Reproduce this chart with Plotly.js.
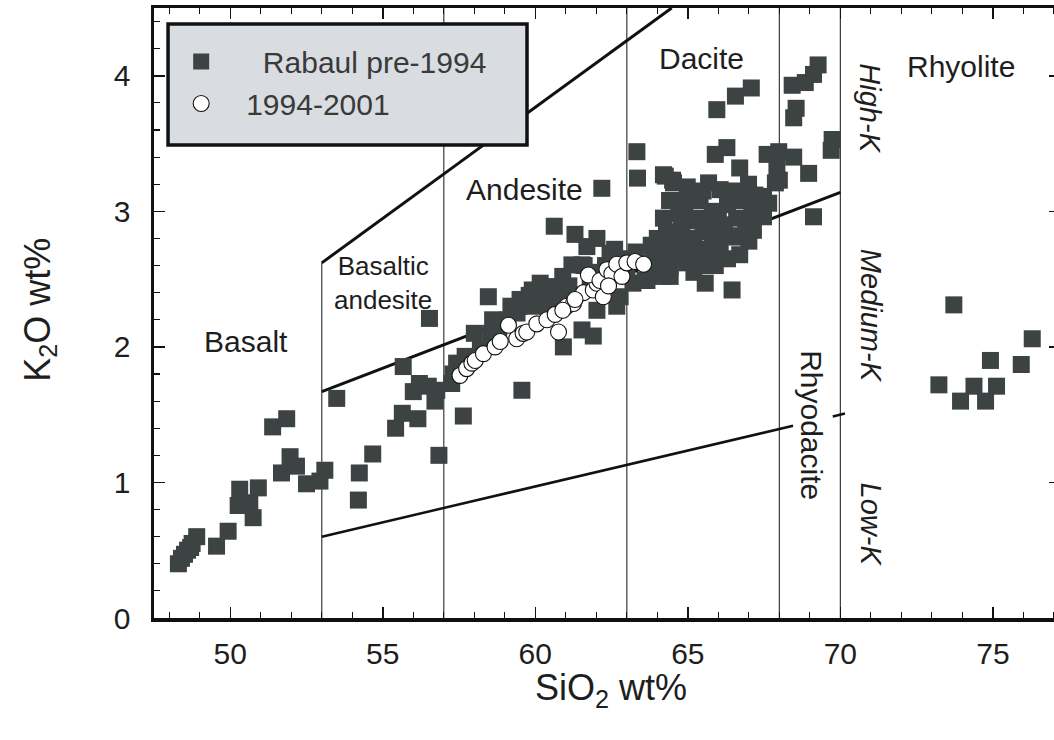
<!DOCTYPE html>
<html>
<head>
<meta charset="utf-8">
<script src="https://cdn.plot.ly/plotly-3.0.1.min.js"></script>
<style>
html,body{margin:0;padding:0;overflow:hidden;background:#fff;}
#chart{width:1070px;height:740px;}
</style>
</head>
<body>
<div id="chart"></div>
<script>
// ---- Data: Rabaul pre-1994 (SiO2 wt%, K2O wt%) ----
const preSiO2 = [
  48.3,48.4,48.5,48.6,48.75,48.9,48.7,49.55,49.93,50.31,50.26,50.64,50.75,50.92,
  51.39,51.85,51.96,51.68,52.17,52.5,52.94,53.1,53.49,54.2,54.23,54.67,
  55.42,55.64,55.67,56.0,56.15,56.2,56.49,56.77,56.71,56.53,56.84,57.26,57.64,57.59,57.42,
  57.3,57.7,58.2,58.46,58.54,58.8,59.1,59.4,59.56,59.72,59.9,60.27,60.6,60.16,60.62,
  60.92,60.9,61.2,61.53,61.3,61.69,62.02,62.18,62.45,61.53,61.9,62.02,62.67,62.78,
  61.8,62.3,62.8,63.2,63.66,63.3,63.33,63.35,61.0,60.4,59.5,59.9,
  58.0,58.6,59.2,59.8,60.5,61.1,61.6,62.1,62.6,63.0,
  64.26,64.53,64.2,64.5,65.9,66.28,66.7,65.95,66.56,67.08,67.6,67.98,68.47,67.92,
  68.0,67.87,68.96,69.12,66.99,67.48,68.42,68.85,69.12,69.27,68.55,68.47,69.73,69.7,
  64.98,65.68,66.06,63.87,64.42,64.97,65.52,66.06,66.61,67.15,67.48,67.65,65.57,66.45,
  64.42,63.6,64.0,64.2,64.4,64.5,64.8,64.9,65.2,65.3,65.4,65.7,65.8,65.9,66.2,66.3,
  66.6,66.8,67.1,66.0,65.0,64.6,63.9,64.1,65.2,66.3,67.2,64.64,64.2,64.2,
  63.8,64.3,64.7,65.1,65.5,65.0,65.5,65.6,66.0,66.4,66.5,66.9,67.3,67.0,64.7,65.3,
  64.0,63.7,65.8,66.7,
  73.72,76.29,74.92,75.93,73.23,74.38,75.12,73.94,74.76
];
const preK2O = [
  0.40,0.44,0.47,0.50,0.55,0.60,0.52,0.53,0.64,0.95,0.83,0.85,0.74,0.96,
  1.41,1.47,1.19,1.07,1.12,0.99,1.01,1.09,1.62,0.87,1.07,1.21,
  1.40,1.51,1.855,1.67,1.47,1.73,1.71,1.68,1.60,2.21,1.20,1.73,1.49,1.87,1.88,
  1.80,1.93,1.98,2.37,2.10,2.08,2.20,2.25,1.68,2.32,2.30,2.42,2.445,2.47,2.89,
  2.00,2.52,2.605,2.605,2.83,2.74,2.80,3.17,2.69,2.125,2.08,2.27,2.30,2.37,
  2.50,2.60,2.65,2.47,2.49,2.70,3.44,3.245,2.38,2.30,2.35,2.42,
  2.10,2.20,2.30,2.38,2.35,2.45,2.60,2.55,2.72,2.55,
  3.26,3.21,3.27,3.23,3.42,3.47,3.32,3.75,3.85,3.91,3.42,3.44,3.40,3.32,
  3.23,3.21,3.28,2.96,3.20,3.11,3.93,3.95,4.01,4.08,3.76,3.69,3.53,3.45,
  3.18,3.21,3.16,2.67,2.59,2.62,2.72,2.72,2.81,2.86,2.96,3.06,2.47,2.42,
  2.52,2.49,2.80,2.95,3.08,2.75,2.88,3.02,2.80,2.95,3.08,2.85,3.00,2.60,2.90,3.05,
  2.95,3.08,3.00,2.82,2.70,2.65,2.60,2.55,2.55,2.65,3.12,3.08,2.72,2.52,
  2.75,2.85,2.98,3.10,3.15,2.93,2.90,2.60,2.95,2.82,3.15,2.90,2.98,2.78,2.78,2.65,
  2.68,2.62,2.75,2.68,
  2.31,2.06,1.90,1.87,1.72,1.71,1.71,1.60,1.60
];

// ---- Data: 1994-2001 ----
const newSiO2 = [
  57.53,57.75,57.92,58.03,58.3,58.68,58.85,59.12,59.39,59.6,59.72,60.05,60.38,60.76,
  60.65,61.03,61.25,61.58,61.9,62.02,62.23,61.74,62.12,62.35,62.51,62.67,62.84,63.0,
  63.27,63.55,61.3,60.9,62.4
];
const newK2O = [
  1.79,1.84,1.88,1.90,1.95,2.00,2.04,2.16,2.06,2.10,2.11,2.17,2.20,2.11,
  2.24,2.30,2.32,2.40,2.42,2.47,2.37,2.53,2.49,2.57,2.54,2.61,2.52,2.62,
  2.63,2.61,2.35,2.27,2.45
];

// ---- Classification boundaries ----
const vLineX = [53, 57, 63, 68, 70];
const vLineTop = [2.62, 4.5, 4.5, 4.5, 4.5];
const upperLineX = [53, 64.47];
const upperLineY = [2.62, 4.5];
const midLineX = [53, 70];
const midLineY = [1.67, 3.14];
const lowLineX = [53, 68.45];
const lowLineY = [0.6, 1.418];
const lowTickX = [69.75, 70.15];
const lowTickY = [1.487, 1.508];

// ---- Field labels ----
const fieldText = ['Basalt','Basaltic<br>andesite','Andesite','Dacite','Rhyolite','Rhyodacite','<i>High-K</i>','<i>Medium-K</i>','<i>Low-K</i>'];
const fieldX = [50.5, 55.0, 59.64, 65.46, 73.96, 69.05, 70.97, 71.0, 71.0];
const fieldY = [2.04, 2.47, 3.16, 4.13, 4.07, 1.42, 3.76, 2.23, 0.69];
const fieldAngle = [0, 0, 0, 0, 0, 90, 90, 90, 90];
const fieldSize = [30, 26, 30, 30, 30, 30, 29, 29, 29];

// ---- Legend / axis labels ----
const seriesNames = ['Rabaul pre-1994', '1994-2001'];
const xTitle = 'SiO<sub>2</sub>\u00a0wt%';
const yTitle = 'K<sub>2</sub>O wt%';

const FONT = 'Liberation Sans, Arial, sans-serif';
const TXT = '#1e1e1e';

// vertical lines as one trace
const vx = [], vy = [];
vLineX.forEach((x, i) => { vx.push(x, x, null); vy.push(0, vLineTop[i], null); });

const traces = [
  {x: vx, y: vy, mode: 'lines', line: {color: '#3a3a3a', width: 1.2}, showlegend: false, hoverinfo: 'skip'},
  {x: upperLineX, y: upperLineY, mode: 'lines', line: {color: '#111', width: 3}, showlegend: false, hoverinfo: 'skip'},
  {x: midLineX, y: midLineY, mode: 'lines', line: {color: '#111', width: 3}, showlegend: false, hoverinfo: 'skip'},
  {x: lowLineX, y: lowLineY, mode: 'lines', line: {color: '#111', width: 2.5}, showlegend: false, hoverinfo: 'skip'},
  {x: lowTickX, y: lowTickY, mode: 'lines', line: {color: '#111', width: 2.5}, showlegend: false, hoverinfo: 'skip'},
  {x: preSiO2, y: preK2O, mode: 'markers', name: '\u00a0\u00a0\u00a0\u00a0\u00a0' + seriesNames[0],
   marker: {symbol: 'square', size: 17, color: '#3d4343', line: {width: 0}}},
  {x: newSiO2, y: newK2O, mode: 'markers', name: '\u00a0\u00a0\u00a0' + seriesNames[1],
   marker: {symbol: 'circle', size: 16, color: '#ffffff', line: {color: '#111', width: 1.1}}}
];

const annotations = fieldText.map((t, i) => ({
  x: fieldX[i], y: fieldY[i], xref: 'x', yref: 'y', text: t, showarrow: false,
  textangle: fieldAngle[i], font: {family: FONT, size: fieldSize[i], color: TXT},
  align: 'center'
}));
// axis titles
annotations.push({
  x: 0.504, y: 0, xref: 'paper', yref: 'paper', yanchor: 'middle', xanchor: 'center',
  yshift: -72, text: xTitle, showarrow: false,
  font: {family: FONT, size: 36, color: TXT}
});
annotations.push({
  x: -0.126, y: 0.505, xref: 'paper', yref: 'paper', yanchor: 'middle', xanchor: 'center',
  text: yTitle, textangle: -90, showarrow: false,
  font: {family: FONT, size: 36, color: TXT}
});

const layout = {
  width: 1070, height: 740,
  margin: {l: 154, r: 10, t: 8, b: 122},
  paper_bgcolor: '#ffffff', plot_bgcolor: '#ffffff',
  font: {family: FONT, color: TXT},
  xaxis: {
    range: [47.5, 77.2], tickvals: [50, 55, 60, 65, 70, 75],
    ticks: 'inside', ticklen: 11, tickwidth: 1.5, tickcolor: '#111',
    minor: {dtick: 1, tick0: 0, ticks: 'inside', ticklen: 6, tickwidth: 1.2, tickcolor: '#111'},
    showline: true, linewidth: 3.5, linecolor: '#111', mirror: 'allticks',
    showgrid: false, zeroline: false,
    tickfont: {family: FONT, size: 30, color: TXT}, ticklabelstandoff: 6
  },
  yaxis: {
    range: [0, 4.5], tickvals: [0, 1, 2, 3, 4],
    ticks: 'inside', ticklen: 11, tickwidth: 1.5, tickcolor: '#111',
    minor: {dtick: 0.2, tick0: 0, ticks: 'inside', ticklen: 6, tickwidth: 1.2, tickcolor: '#111'},
    showline: true, linewidth: 3.5, linecolor: '#111', mirror: 'allticks',
    showgrid: false, zeroline: false,
    tickfont: {family: FONT, size: 30, color: TXT}, ticklabelstandoff: 14
  },
  shapes: [{
    type: 'rect', xref: 'paper', yref: 'paper', x0: 0.0155, x1: 0.4117, y0: 0.7754, y1: 0.9738,
    fillcolor: '#d9dde1', line: {color: '#111', width: 3.5}, layer: 'above'
  }],
  legend: {
    x: 0.03, y: 0.955, xanchor: 'left', yanchor: 'top',
    bgcolor: 'rgba(0,0,0,0)', borderwidth: 0,
    font: {family: FONT, size: 30, color: '#3a3a3a'}, itemwidth: 30, tracegroupgap: 0
  },
  annotations: annotations,
  showlegend: true
};

Plotly.newPlot('chart', traces, layout, {displayModeBar: false, staticPlot: true});
</script>
</body>
</html>
